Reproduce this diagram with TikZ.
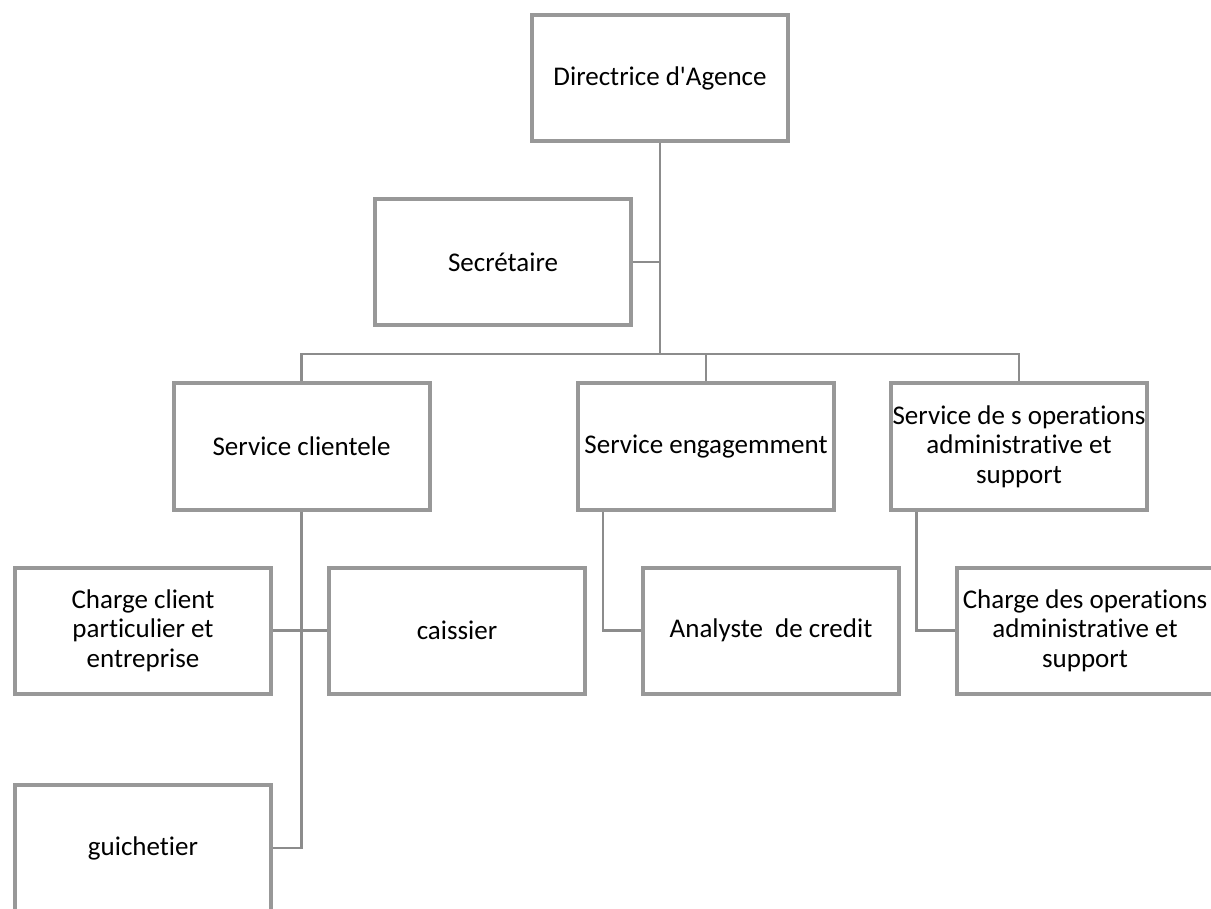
\documentclass[tikz,border=0pt]{standalone}
\usepackage{fontspec}
% plain family: no TeX quote mapping, no common ligatures
\newfontfamily\boxfont{Carlito}[Ligatures={NoCommon}]
\definecolor{boxgray}{HTML}{989898}
\definecolor{linegray}{HTML}{8C8C8C}
\begin{document}
\begin{tikzpicture}[x=1pt,y=-1pt,
  unit/.style={draw=boxgray, line width=4pt, fill=white,
    minimum width=256pt, minimum height=126pt, inner sep=2pt,
    align=center, font=\boxfont\fontsize{27}{29.5}\selectfont},
  conn/.style={draw=linegray, line width=2.5pt}]
\useasboundingbox (0,0) rectangle (1211,909);

\coordinate (bus) at (660,354);

% boxes
\node[unit] (dir) at (660,78)    {Directrice d'Agence};
\node[unit] (sec) at (503,262)   {Secrétaire};
\node[unit] (sc)  at (301.5,446.5) {Service clientele};
\node[unit] (se)  at (706,446.5) {Service engagemment};
\node[unit] (so)  at (1019,446.5) {Service de s operations\\administrative et\\support};
\node[unit] (cc)  at (143,630.5) {Charge client\\particulier et\\entreprise};
\node[unit] (ca)  at (457,630.5) {caissier};
\node[unit] (an)  at (771,630.5) {Analyste\ \ de credit};
\node[unit] (cd)  at (1085,630.5) {Charge des operations\\administrative et\\support};
\node[unit] (gu)  at (143,848)   {guichetier};

% director down to the bus, bus across to the three services
\draw[conn] (dir.south) -- (bus);
\draw[conn] (sc.north) -- (sc.north |- bus) -- (so.north |- bus) -- (so.north);
\draw[conn] (se.north) -- (se.north |- bus);
\draw[conn] (sec.east) -- (sec.east -| bus);

% service clientele branch
\draw[conn] (sc.south) -- (sc.south |- gu.east) -- (gu.east);
\draw[conn] (cc.east) -- (ca.west);

% service engagement branch
\coordinate (seleg) at ([xshift=27pt]se.south west);
\draw[conn] (seleg) -- (seleg |- an.west) -- (an.west);

% operations branch
\coordinate (soleg) at ([xshift=28pt]so.south west);
\draw[conn] (soleg) -- (soleg |- cd.west) -- (cd.west);
\end{tikzpicture}
\end{document}
